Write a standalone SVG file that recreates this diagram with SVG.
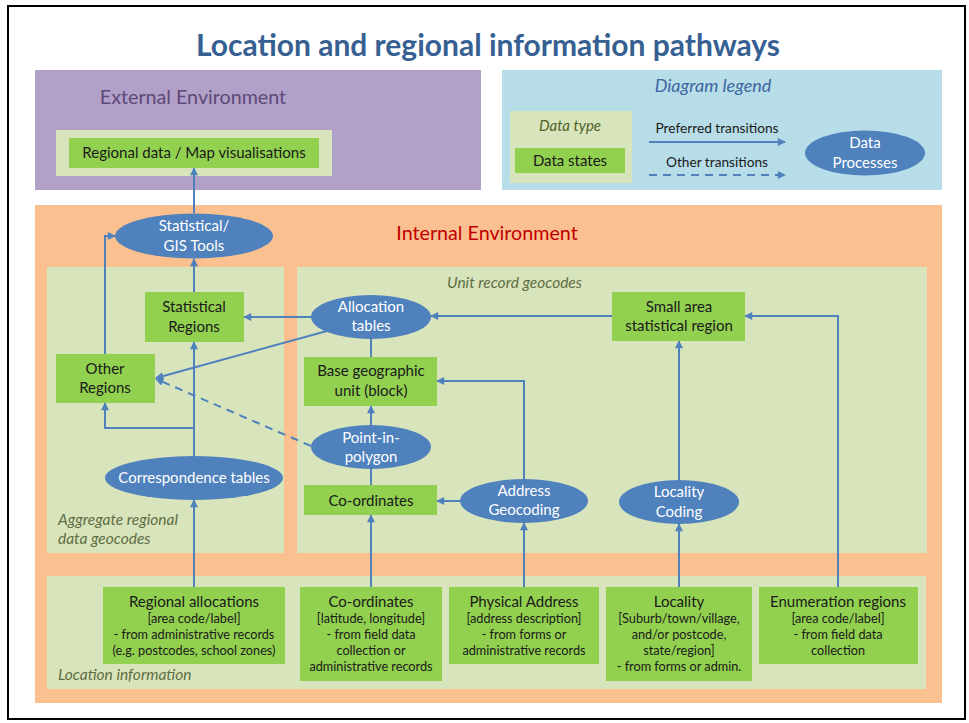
<svg xmlns="http://www.w3.org/2000/svg" width="969" height="723" viewBox="0 0 969 723">
<style>
text{font-family:Lato,"Liberation Sans",sans-serif;text-anchor:middle}
.box{fill:#92d050}
.panel{fill:#d8e4bc}
.proc{fill:#4f81bd}
.bt{font-size:15px;fill:#1a1a1a}
.st{font-size:12.7px;fill:#1a1a1a}
.pt{font-size:15px;fill:#ffffff}
.lbl{font-size:15.5px;font-style:italic;fill:#5e6d43;text-anchor:start}
.c{fill:none;stroke:#4f81bd;stroke-width:2}
.arr{marker-end:url(#ah)}
.dash{stroke-dasharray:8 6}
</style>
<defs>
<marker id="ah" viewBox="0 0 10 10" refX="9" refY="5" markerWidth="9" markerHeight="8" markerUnits="userSpaceOnUse" orient="auto">
<path d="M0,0 L10,5 L0,10 z" fill="#4f81bd"/>
</marker>
</defs>
<rect x="0" y="0" width="969" height="723" fill="#ffffff"/>
<rect x="8" y="6" width="957" height="713" fill="#ffffff" stroke="#000000" stroke-width="2"/>
<text x="488" y="56" textLength="584" lengthAdjust="spacingAndGlyphs" style="font-size:29.5px;font-weight:bold;fill:#376092">Location and regional information pathways</text>

<g id="external-env">
<rect x="35" y="70" width="446" height="120" fill="#b1a0c7"/>
<text x="193" y="104" style="font-size:19.7px;fill:#5f497a">External Environment</text>
<rect class="panel" x="56" y="130" width="276" height="46"/>
</g>
<g id="regional-data">
<rect class="box" x="69" y="138" width="250" height="30"/>
<text class="bt" x="194" y="158">Regional data / Map visualisations</text>
</g>

<g id="legend">
<rect x="502" y="70" width="440" height="120" fill="#b7dde8"/>
<text x="713" y="92" style="font-size:18px;font-style:italic;fill:#3e66a0">Diagram legend</text>
<rect class="panel" x="510" y="111" width="122" height="72"/>
<text x="570" y="131" style="font-size:15px;font-style:italic;fill:#4f6228">Data type</text>
<rect class="box" x="515" y="148" width="110" height="25"/>
<text class="bt" x="570" y="166">Data states</text>
<text x="717" y="133" style="font-size:13.7px;fill:#1a1a1a">Preferred transitions</text>
<path class="c arr" d="M649,142 H785"/>
<text x="717" y="167" style="font-size:13.7px;fill:#1a1a1a">Other transitions</text>
<path class="c arr dash" d="M649,175 H785"/>
<ellipse class="proc" cx="865" cy="153" rx="60" ry="22.5"/>
<text class="pt" x="865" y="148">Data</text>
<text class="pt" x="865" y="168">Processes</text>
</g>

<g id="internal-env">
<rect x="35" y="205" width="907" height="498" fill="#fac090"/>
<text x="487" y="240" style="font-size:19.7px;fill:#c00000">Internal Environment</text>
<rect class="panel" x="47" y="267" width="237" height="286"/>
<rect class="panel" x="297" y="267" width="630" height="286"/>
<rect class="panel" x="47" y="576" width="879" height="113"/>
<text class="lbl" x="447" y="288">Unit record geocodes</text>
<text class="lbl" x="58" y="525">Aggregate regional</text>
<text class="lbl" x="58" y="544">data geocodes</text>
<text class="lbl" x="58" y="680">Location information</text>
</g>

<g id="connectors">
<path class="c arr" d="M194,213 V168"/>
<path class="c arr" d="M194,292 V259"/>
<path class="c arr" d="M105,354 V236 H115"/>
<path class="c arr" d="M194,456 V342"/>
<path class="c arr" d="M194,428 H105 V403"/>
<path class="c arr" d="M194,587 V500"/>
<path class="c arr" d="M311,317 H244"/>
<path class="c arr" d="M327,331 L156,378"/>
<path class="c arr dash" d="M311,446 L156,379"/>
<path class="c" d="M371,357 V339"/>
<path class="c arr" d="M371,425 V406"/>
<path class="c" d="M371,485 V469"/>
<path class="c arr" d="M371,587 V515"/>
<path class="c arr" d="M460,501 H437"/>
<path class="c arr" d="M524,479 V381 H437"/>
<path class="c arr" d="M524,587 V523"/>
<path class="c arr" d="M679,480 V341"/>
<path class="c arr" d="M679,587 V524"/>
<path class="c arr" d="M612,316 H431"/>
<path class="c arr" d="M838,587 V316 H745"/>
</g>

<g id="gis-tools">
<ellipse class="proc" cx="194" cy="236" rx="79" ry="22.5"/>
<text class="pt" x="194" y="231">Statistical/</text>
<text class="pt" x="194" y="251">GIS Tools</text>
</g>
<g id="statistical-regions">
<rect class="box" x="145" y="292" width="99" height="50"/>
<text class="bt" x="194" y="312">Statistical</text>
<text class="bt" x="194" y="332">Regions</text>
</g>
<g id="other-regions">
<rect class="box" x="56" y="354" width="99" height="49"/>
<text class="bt" x="105" y="374">Other</text>
<text class="bt" x="105" y="393">Regions</text>
</g>
<g id="correspondence-tables">
<ellipse class="proc" cx="194" cy="478" rx="89" ry="22"/>
<text class="pt" x="194" y="483">Correspondence tables</text>
</g>
<g id="allocation-tables">
<ellipse class="proc" cx="371" cy="317" rx="60" ry="22"/>
<text class="pt" x="371" y="312">Allocation</text>
<text class="pt" x="371" y="331">tables</text>
</g>
<g id="base-geographic-unit">
<rect class="box" x="304" y="357" width="133" height="49"/>
<text class="bt" x="371" y="376">Base geographic</text>
<text class="bt" x="371" y="396">unit (block)</text>
</g>
<g id="point-in-polygon">
<ellipse class="proc" cx="371" cy="447" rx="60" ry="22"/>
<text class="pt" x="371" y="443">Point-in-</text>
<text class="pt" x="371" y="462">polygon</text>
</g>
<g id="coordinates-state">
<rect class="box" x="304" y="485" width="133" height="30"/>
<text class="bt" x="371" y="506">Co-ordinates</text>
</g>
<g id="small-area">
<rect class="box" x="612" y="292" width="133" height="49"/>
<text class="bt" x="679" y="312">Small area</text>
<text class="bt" x="679" y="331">statistical region</text>
</g>
<g id="address-geocoding">
<ellipse class="proc" cx="524" cy="501" rx="64" ry="22"/>
<text class="pt" x="524" y="496">Address</text>
<text class="pt" x="524" y="515">Geocoding</text>
</g>
<g id="locality-coding">
<ellipse class="proc" cx="679" cy="502" rx="60" ry="22"/>
<text class="pt" x="679" y="497">Locality</text>
<text class="pt" x="679" y="517">Coding</text>
</g>

<g id="regional-allocations">
<rect class="box" x="103" y="587" width="182" height="77"/>
<text class="bt" x="194" y="607">Regional allocations</text>
<text class="st" x="194" y="623">[area code/label]</text>
<text class="st" x="194" y="639">- from administrative records</text>
<text class="st" x="194" y="655">(e.g. postcodes, school zones)</text>
</g>
<g id="coordinates-info">
<rect class="box" x="300" y="587" width="142" height="94"/>
<text class="bt" x="371" y="607">Co-ordinates</text>
<text class="st" x="371" y="623">[latitude, longitude]</text>
<text class="st" x="371" y="639">- from field data</text>
<text class="st" x="371" y="655">collection or</text>
<text class="st" x="371" y="671">administrative records</text>
</g>
<g id="physical-address">
<rect class="box" x="449" y="587" width="150" height="77"/>
<text class="bt" x="524" y="607">Physical Address</text>
<text class="st" x="524" y="623">[address description]</text>
<text class="st" x="524" y="639">- from forms or</text>
<text class="st" x="524" y="655">administrative records</text>
</g>
<g id="locality">
<rect class="box" x="606" y="587" width="146" height="94"/>
<text class="bt" x="679" y="607">Locality</text>
<text class="st" x="679" y="623">[Suburb/town/village,</text>
<text class="st" x="679" y="639">and/or postcode,</text>
<text class="st" x="679" y="655">state/region]</text>
<text class="st" x="679" y="671">- from forms or admin.</text>
</g>
<g id="enumeration-regions">
<rect class="box" x="759" y="587" width="159" height="77"/>
<text class="bt" x="838" y="607">Enumeration regions</text>
<text class="st" x="838" y="623">[area code/label]</text>
<text class="st" x="838" y="639">- from field data</text>
<text class="st" x="838" y="655">collection</text>
</g>
</svg>
